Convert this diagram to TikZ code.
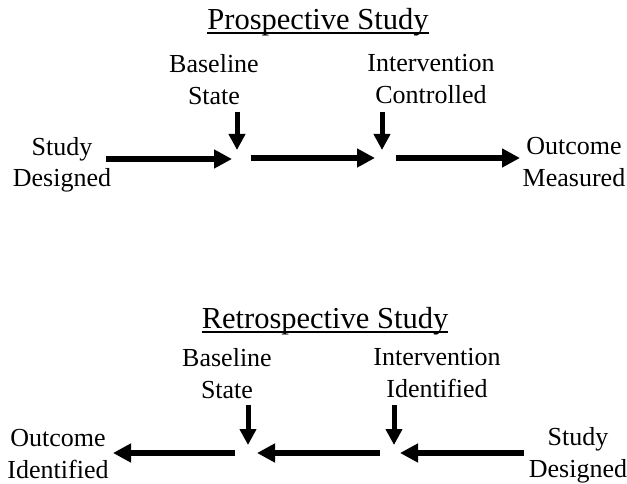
\documentclass[tikz,border=0pt]{standalone}
\usepackage{fontspec}
\setmainfont{Liberation Serif}
\usetikzlibrary{arrows.meta}
\begin{document}
\begin{tikzpicture}[x=1pt,y=-1pt,
  lbl/.style={font=\fontsize{26}{32}\selectfont, align=center, inner sep=0pt, anchor=base},
  ttl/.style={font=\fontsize{30.5}{36}\selectfont, inner sep=0pt, anchor=base},
  harrow/.style={line width=5.5pt, -{Triangle[length=18pt,width=18pt]}},
  varrow/.style={line width=5pt, -{Triangle[length=16pt,width=16pt]}},
  uline/.style={line width=1.3pt}]
\useasboundingbox (0,0) rectangle (627,484);

% ---------------- Prospective ----------------
\node[ttl] (pt) at (318,30) {Prospective Study};
\draw[uline] ([yshift=-3pt]pt.base west) -- ([yshift=-3pt]pt.base east);
\node[lbl] (psd) at (62,187) {Study\\Designed};
\node[lbl] (pbs) at (214,105) {Baseline\\State};
\node[lbl] (pic) at (431,104) {Intervention\\Controlled};
\node[lbl] (pom) at (574,186) {Outcome\\Measured};

\coordinate (pa1s) at (106,159);
\coordinate (pj1)  at (232,159);
\coordinate (pa2s) at (251,158);
\coordinate (pj2)  at (375,158);
\coordinate (pa3s) at (396,158);
\coordinate (pa3e) at (520,158);
\coordinate (pv1s) at (237,112);
\coordinate (pv1e) at (237,150);
\coordinate (pv2s) at (382,112);
\coordinate (pv2e) at (382,150);

\draw[harrow] (pa1s) -- (pj1);
\draw[harrow] (pa2s) -- (pj2);
\draw[harrow] (pa3s) -- (pa3e);
\draw[varrow] (pv1s) -- (pv1e);
\draw[varrow] (pv2s) -- (pv2e);

% ---------------- Retrospective ----------------
\node[ttl] (rt) at (325,328) {Retrospective Study};
\draw[uline] ([yshift=-4pt]rt.base west) -- ([yshift=-4pt]rt.base east);
\node[lbl] (rbs) at (227,398) {Baseline\\State};
\node[lbl] (rii) at (437,397) {Intervention\\Identified};
\node[lbl] (roi) at (58,478) {Outcome\\Identified};
\node[lbl] (rsd) at (578,477) {Study\\Designed};

\coordinate (ra1s) at (524,453);
\coordinate (rj2)  at (400,453);
\coordinate (ra2s) at (380,453);
\coordinate (rj1)  at (257,453);
\coordinate (ra3s) at (235,453);
\coordinate (ra3e) at (113,453);
\coordinate (rv1s) at (248,405);
\coordinate (rv1e) at (248,445);
\coordinate (rv2s) at (394,405);
\coordinate (rv2e) at (394,445);

\draw[harrow] (ra1s) -- (rj2);
\draw[harrow] (ra2s) -- (rj1);
\draw[harrow] (ra3s) -- (ra3e);
\draw[varrow] (rv1s) -- (rv1e);
\draw[varrow] (rv2s) -- (rv2e);
\end{tikzpicture}
\end{document}
